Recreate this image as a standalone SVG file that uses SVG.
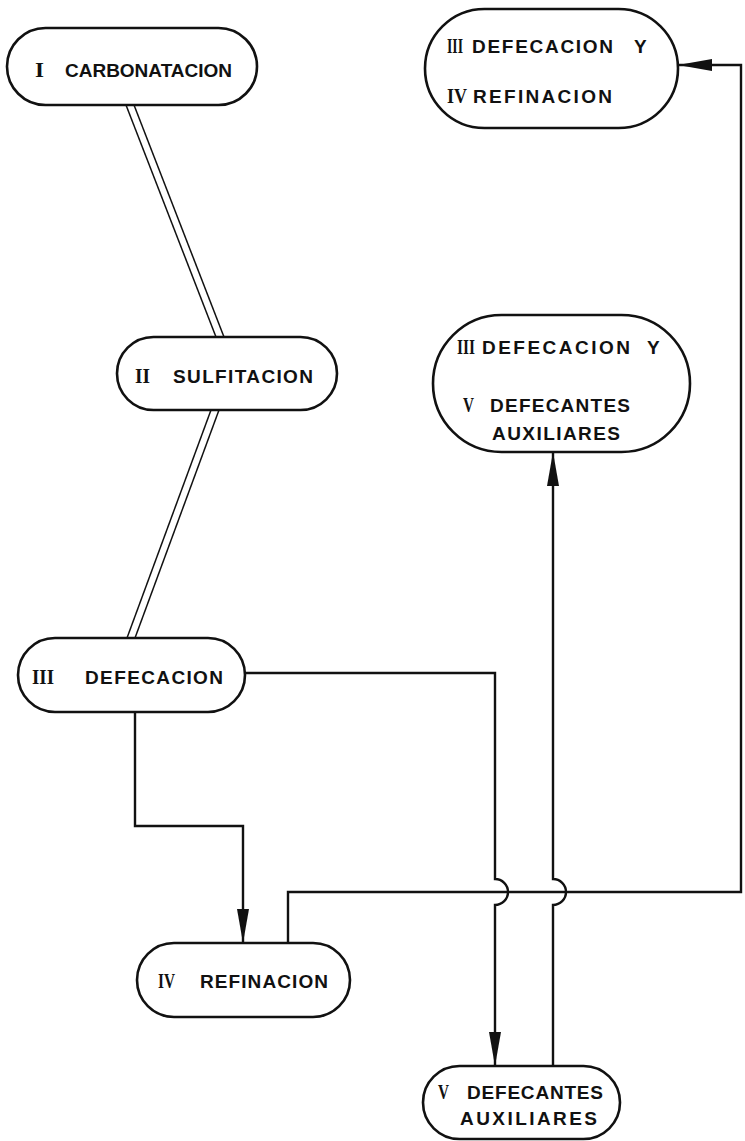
<svg xmlns="http://www.w3.org/2000/svg" width="745" height="1141" viewBox="0 0 745 1141">
<style>
.node{fill:#fff;stroke:#111;stroke-width:2.6}
.t{font-family:"Liberation Sans",Arial,sans-serif;font-weight:bold;font-size:19px;fill:#111}
.n{font-family:"Liberation Serif","Times New Roman",serif;font-weight:bold;font-size:21px;fill:#111}
.c{fill:none;stroke:#111;stroke-width:2.4}
.d{fill:none;stroke:#111;stroke-width:1.5}
</style>
<defs>
<marker id="arr" markerUnits="userSpaceOnUse" viewBox="0 0 34 12" refX="34" refY="6" markerWidth="34" markerHeight="12" orient="auto">
<path d="M0,0 L34,6 L0,12 Z" fill="#111"/>
</marker>
</defs>
<rect width="745" height="1141" fill="#fff"/>
<g id="connectors">
<line class="d" x1="126" y1="105" x2="216" y2="337"/>
<line class="d" x1="134" y1="105" x2="224" y2="337"/>
<line class="d" x1="211" y1="410" x2="127" y2="638"/>
<line class="d" x1="219" y1="410" x2="135" y2="638"/>
<path class="c" d="M245,673 H495 V879 A13,13 0 0 1 495,905 V1066" marker-end="url(#arr)"/>
<path class="c" d="M135,712 V826 H243 V943" marker-end="url(#arr)"/>
<path class="c" d="M288,943 V892 H741 V65 H678" marker-end="url(#arr)"/>
<path class="c" d="M553,1066 V905 A13,13 0 0 0 553,879 V452" marker-end="url(#arr)"/>
</g>
<g id="n1">
<rect class="node" x="7" y="28" width="250" height="77" rx="38.5"/>
<text class="n" x="35" y="77" textLength="9" lengthAdjust="spacingAndGlyphs">I</text>
<text class="t" x="65" y="77" textLength="167" lengthAdjust="spacing">CARBONATACION</text>
</g>
<g id="n2">
<rect class="node" x="117" y="337" width="220" height="73" rx="36.5"/>
<text class="n" x="135" y="383" textLength="15" lengthAdjust="spacingAndGlyphs">II</text>
<text class="t" x="173" y="383" textLength="140" lengthAdjust="spacing">SULFITACION</text>
</g>
<g id="n3">
<rect class="node" x="18" y="638" width="227" height="74" rx="37"/>
<text class="n" x="32" y="684" textLength="22" lengthAdjust="spacingAndGlyphs">III</text>
<text class="t" x="85" y="684" textLength="138" lengthAdjust="spacing">DEFECACION</text>
</g>
<g id="n4">
<rect class="node" x="137" y="943" width="213" height="74" rx="37"/>
<text class="n" x="158" y="988" textLength="17" lengthAdjust="spacingAndGlyphs">IV</text>
<text class="t" x="200" y="988" textLength="128" lengthAdjust="spacing">REFINACION</text>
</g>
<g id="n5">
<rect class="node" x="423" y="1066" width="197" height="73" rx="36.5"/>
<text class="n" x="438" y="1099" textLength="11" lengthAdjust="spacingAndGlyphs">V</text>
<text class="t" x="467" y="1099" textLength="136" lengthAdjust="spacing">DEFECANTES</text>
<text class="t" x="460" y="1125" textLength="137" lengthAdjust="spacing">AUXILIARES</text>
</g>
<g id="n6">
<rect class="node" x="425" y="9" width="253" height="119" rx="59.5"/>
<text class="n" x="447" y="53" textLength="16" lengthAdjust="spacingAndGlyphs">III</text>
<text class="t" x="472" y="53" textLength="141" lengthAdjust="spacing">DEFECACION</text>
<text class="t" x="634" y="53">Y</text>
<text class="n" x="447" y="103" textLength="20" lengthAdjust="spacingAndGlyphs">IV</text>
<text class="t" x="473" y="103" textLength="139" lengthAdjust="spacing">REFINACION</text>
</g>
<g id="n7">
<rect class="node" x="433" y="315" width="257" height="137" rx="68.5"/>
<text class="n" x="457" y="354" textLength="18" lengthAdjust="spacingAndGlyphs">III</text>
<text class="t" x="482" y="354" textLength="148" lengthAdjust="spacing">DEFECACION</text>
<text class="t" x="647" y="354">Y</text>
<text class="n" x="463" y="412" textLength="11" lengthAdjust="spacingAndGlyphs">V</text>
<text class="t" x="490" y="412" textLength="140" lengthAdjust="spacing">DEFECANTES</text>
<text class="t" x="492" y="440" textLength="128" lengthAdjust="spacing">AUXILIARES</text>
</g>
</svg>
